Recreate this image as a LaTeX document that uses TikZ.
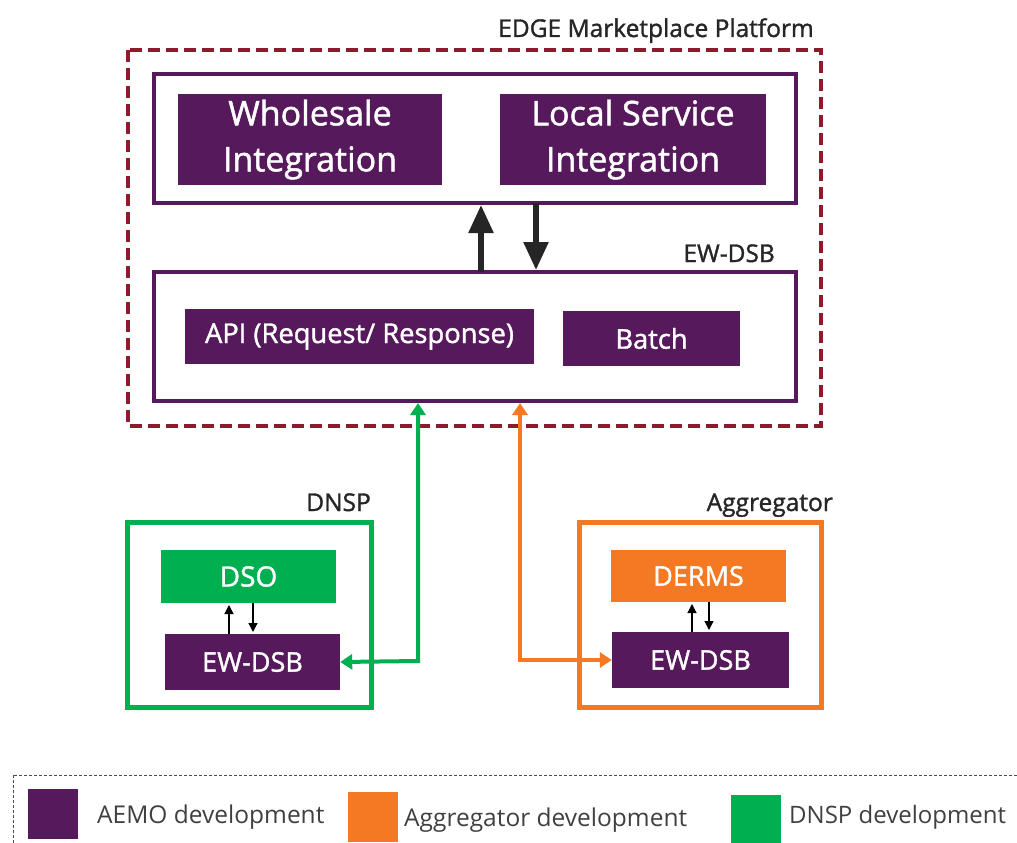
\documentclass[tikz,border=0pt]{standalone}
\usepackage{fontspec}
\setmainfont{Open Sans}
\newfontfamily\sbf{Open Sans}[FakeBold=1.4]
\usetikzlibrary{arrows.meta}
\definecolor{aemo}{HTML}{561A5C}
\definecolor{agg}{HTML}{F47922}
\definecolor{dnsp}{HTML}{00B050}
\definecolor{edge}{HTML}{8E1B2C}
\definecolor{txt}{HTML}{262626}
\definecolor{leg}{HTML}{404040}
\tikzset{
  fillbox/.style={fill=#1, draw=none, text=white, inner sep=0pt, align=center},
  lbl/.style={text=txt, inner sep=0pt, anchor=base east, font=\sbf\fontsize{24.5}{28}\selectfont},
  bigarrow/.style={line width=5.5pt, -{Triangle[length=28pt,width=24pt]}, color=black!85},
  smallarrow/.style={line width=1.2pt, -{Triangle[length=9pt,width=9pt]}},
  conn/.style={line width=4pt, {Triangle[length=12pt,width=15pt]}-{Triangle[length=12pt,width=15pt]}},
  legtext/.style={text=leg, anchor=base west, inner sep=0pt, font=\fontsize{24.5}{28}\selectfont},
  legsq/.style={fill=#1, inner sep=0pt, minimum width=50pt, minimum height=50pt}
}
\begin{document}
\begin{tikzpicture}[x=1pt,y=-1pt]
\useasboundingbox (0,0) rectangle (1017,843);
% outer platform
\draw[edge, line width=4pt, dash pattern=on 12pt off 6pt] (128,50) rectangle (821,426);
\node[lbl] (title) at (814,37) {EDGE Marketplace Platform};
% upper box
\draw[aemo, line width=4pt] (154,74) rectangle (796,203);
\node[fillbox=aemo, minimum width=264pt, minimum height=91pt, font=\sbf\fontsize{34}{46}\selectfont] (whole) at (310,139.5) {Wholesale\\Integration};
\node[fillbox=aemo, minimum width=266pt, minimum height=91pt, font=\sbf\fontsize{34}{46}\selectfont] (local) at (633,139.5) {Local Service\\Integration};
% lower box
\draw[aemo, line width=4pt] (154,272) rectangle (796,401);
\node[lbl] (ewlbl) at (775,262) {EW-DSB};
\node[fillbox=aemo, minimum width=349pt, minimum height=55pt, font=\sbf\fontsize{27.3}{30}\selectfont] (api) at (359.5,336.5) {API (Request/ Response)};
\node[fillbox=aemo, minimum width=177pt, minimum height=55pt, font=\sbf\fontsize{27.3}{30}\selectfont] (batch) at (651.5,338.5) {Batch};
\coordinate (l1) at (481,272);
\coordinate (u1) at (481,205);
\coordinate (u2) at (536,203);
\coordinate (l2) at (536,270);
\draw[bigarrow] (l1) -- (u1);
\draw[bigarrow] (u2) -- (l2);
% DNSP
\draw[dnsp, line width=5pt] (127,522) rectangle (371,707);
\node[lbl] (dnsplbl) at (371,511) {DNSP};
\node[fillbox=dnsp, minimum width=175pt, minimum height=53pt, font=\sbf\fontsize{28}{30}\selectfont] (dso) at (248.5,576.5) {DSO};
\node[fillbox=aemo, minimum width=175pt, minimum height=56pt, font=\sbf\fontsize{27}{30}\selectfont] (ewd) at (252.5,662) {EW-DSB};
\draw[smallarrow] (229,634) -- (229,605);
\draw[smallarrow] (253,603) -- (253,632);
% Aggregator
\draw[agg, line width=5pt] (579,522) rectangle (821,707);
\node[lbl] (agglbl) at (833,511) {Aggregator};
\node[fillbox=agg, minimum width=175pt, minimum height=52pt, font=\sbf\fontsize{27}{30}\selectfont] (derms) at (698.5,576) {DERMS};
\node[fillbox=aemo, minimum width=177pt, minimum height=56pt, font=\sbf\fontsize{27}{30}\selectfont] (ewa) at (700.5,660) {EW-DSB};
\draw[smallarrow] (692,632) -- (692,604);
\draw[smallarrow] (709,602) -- (709,630);
% connectors
\coordinate (gtop) at (418,403);
\coordinate (otop) at (520,403);
\draw[dnsp, conn] (gtop) -- (418,661) -- (ewd.east);
\draw[agg, conn] (otop) -- (520,660) -- (ewa.west);
% legend
\draw[black!70, line width=0.8pt, dash pattern=on 3pt off 2pt] (13,775) rectangle (1030,860);
\node[legsq=aemo] (lp) at (53,814) {};
\node[legtext] (lpt) at (97,823) {AEMO development};
\node[legsq=agg] (lo) at (372.5,816.5) {};
\node[legtext] (lot) at (404,826) {Aggregator development};
\node[legsq=dnsp] (lg) at (756,820) {};
\node[legtext, font=\fontsize{24}{28}\selectfont] (lgt) at (789,823) {DNSP development};
\end{tikzpicture}
\end{document}
